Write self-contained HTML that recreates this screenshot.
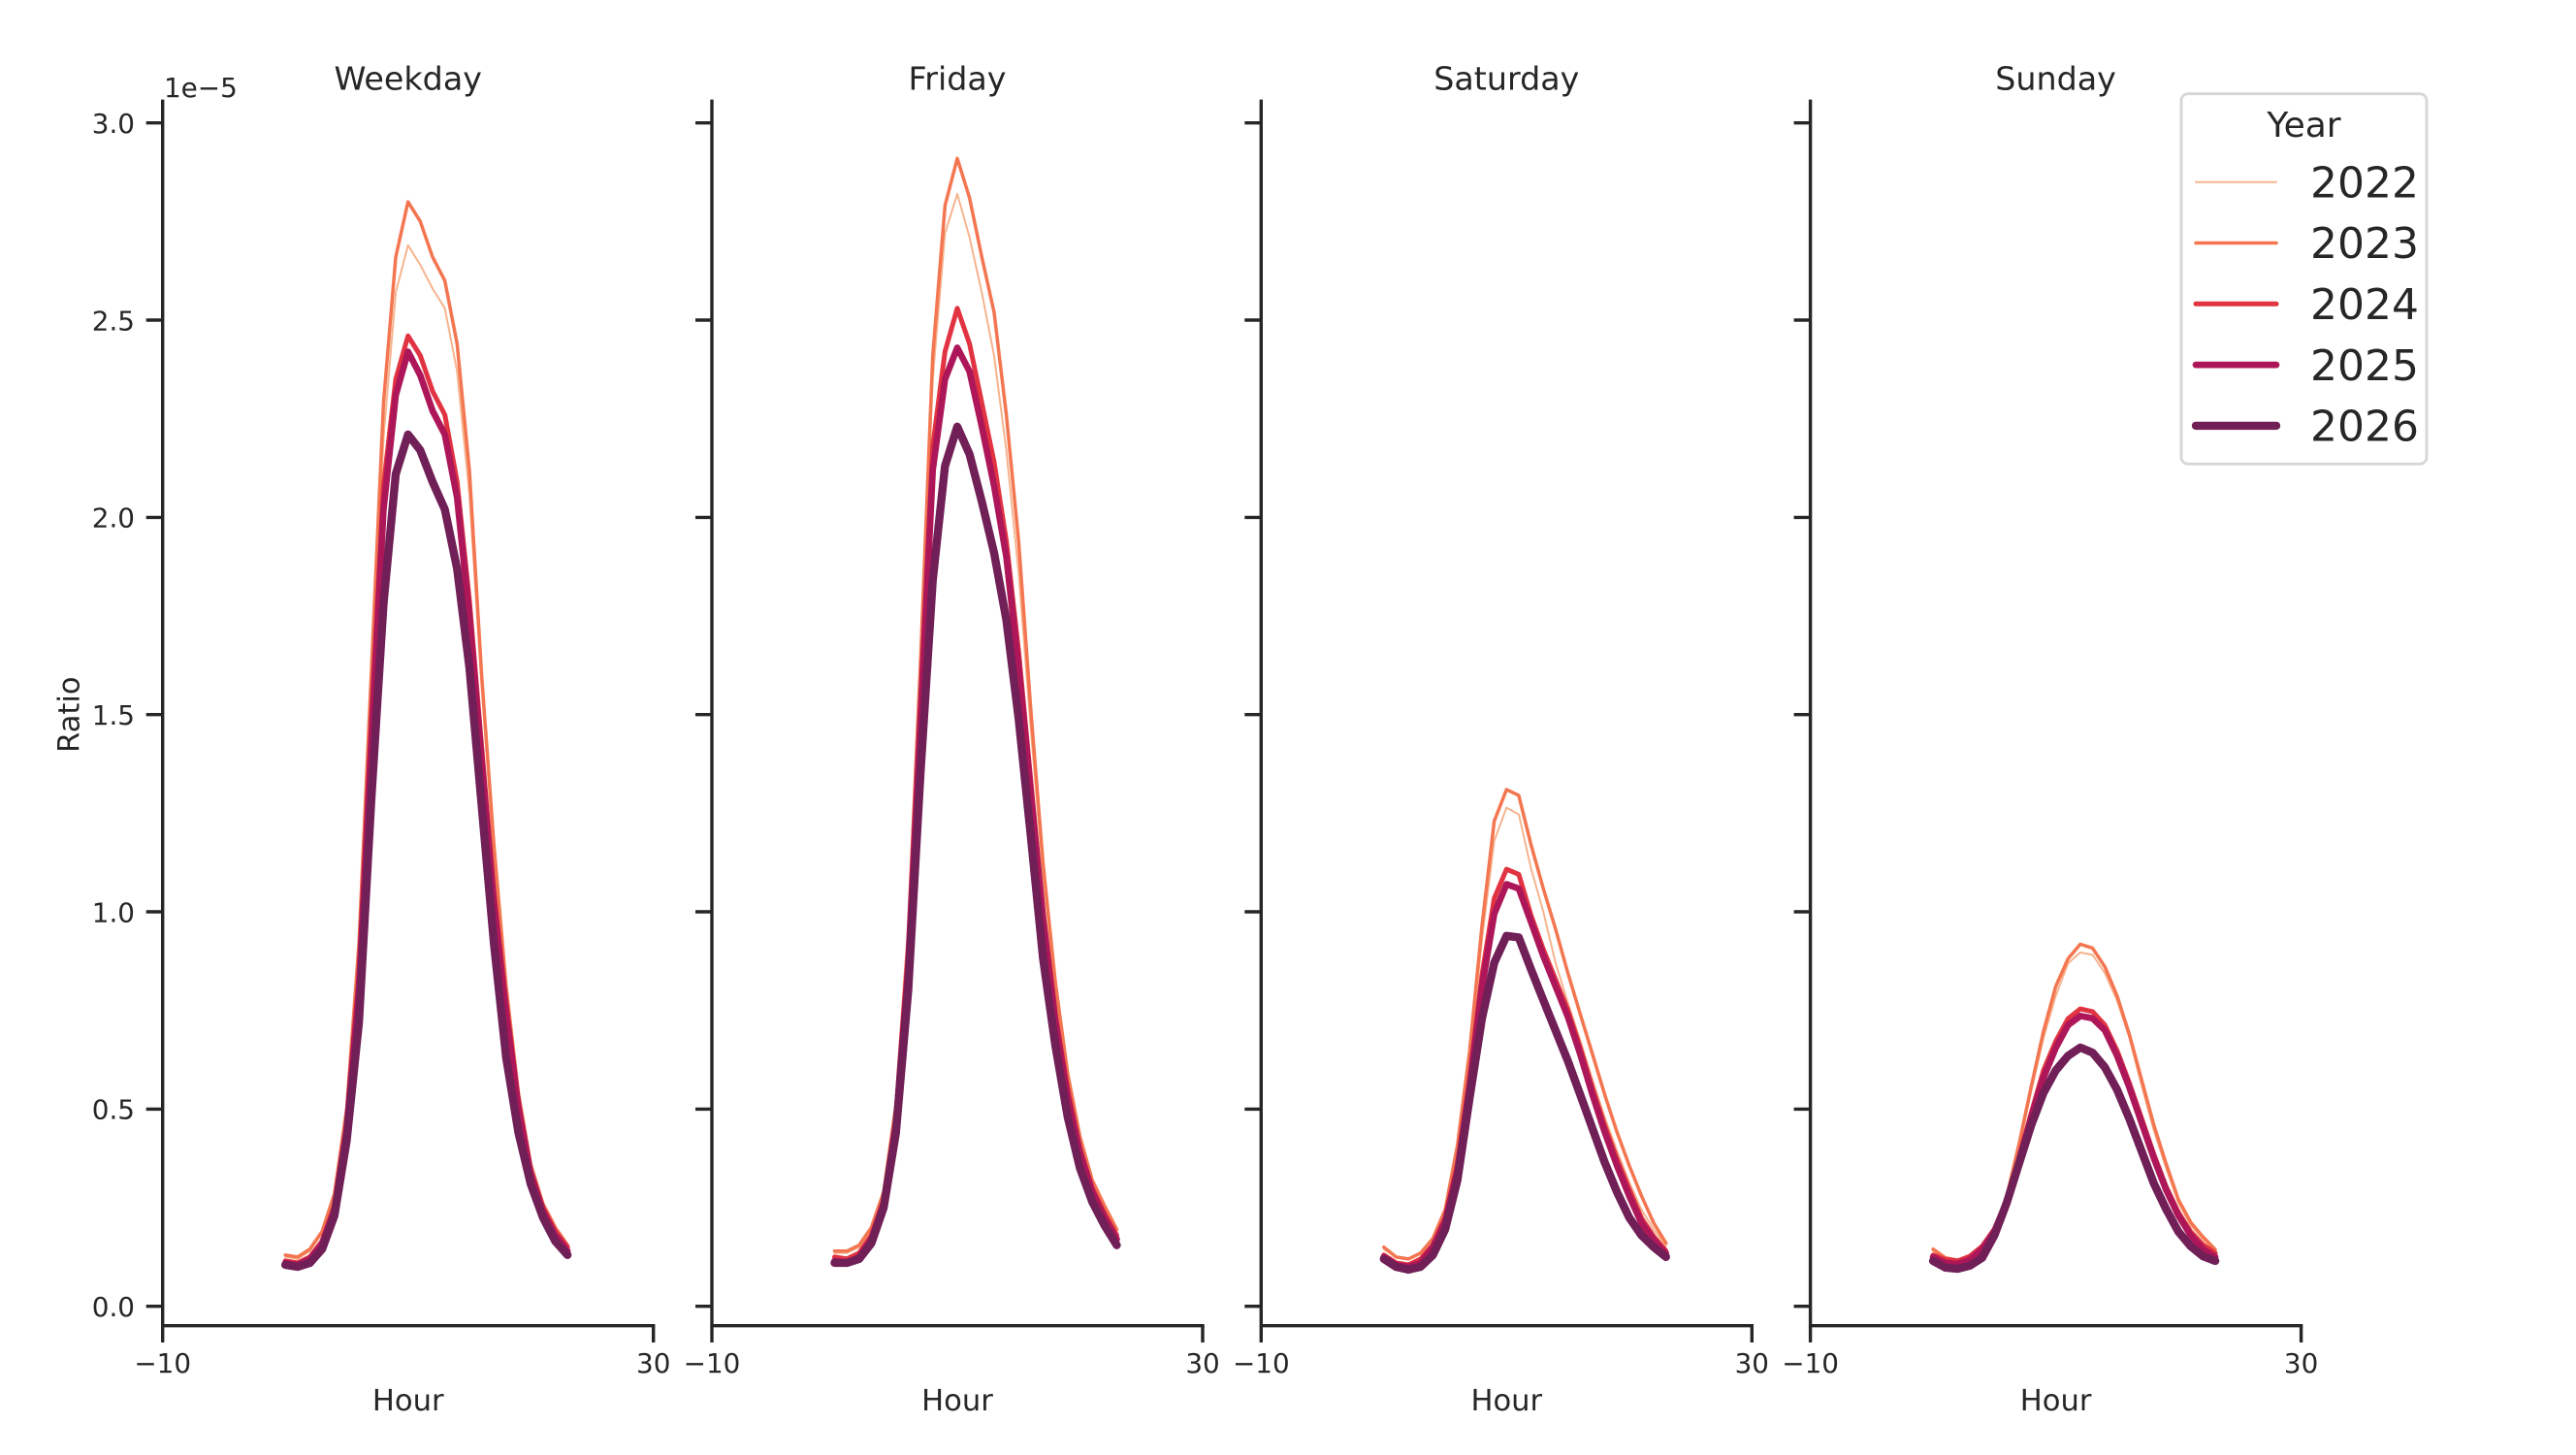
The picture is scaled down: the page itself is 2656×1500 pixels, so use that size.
<!DOCTYPE html>
<html>
<head>
<meta charset="utf-8">
<style>
  html, body { margin: 0; padding: 0; background: #ffffff; }
  svg { display: block; }
  text { font-family: "DejaVu Sans", "Liberation Sans", sans-serif; fill: #262626; }
  .tick { font-size: 27.8px; }
  .ttl { font-size: 33.3px; }
  .lbl { font-size: 30.6px; }
  .ln { fill: none; stroke-linejoin: round; stroke-linecap: round; }
  .y22 { stroke: #f6b48f; stroke-width: 2; }
  .y23 { stroke: #f37651; stroke-width: 3.5; }
  .y24 { stroke: #e13342; stroke-width: 5; }
  .y25 { stroke: #ad1759; stroke-width: 6.7; }
  .y26 { stroke: #701f57; stroke-width: 8.4; }
  .ax { stroke: #262626; stroke-width: 3.4; fill: none; stroke-linecap: square; }
  .tk { stroke: #262626; stroke-width: 3.4; }
</style>
</head>
<body>
<svg width="2656" height="1500" viewBox="0 0 2656 1500" xmlns="http://www.w3.org/2000/svg">
  <rect x="0" y="0" width="2656" height="1500" fill="#ffffff"/>

  <!-- reusable axes: ticks -->
  <defs>
    <g id="yticks">
      <line class="tk" x1="-17" y1="1346.7" x2="0" y2="1346.7"/>
      <line class="tk" x1="-17" y1="1143.4" x2="0" y2="1143.4"/>
      <line class="tk" x1="-17" y1="940.0" x2="0" y2="940.0"/>
      <line class="tk" x1="-17" y1="736.7" x2="0" y2="736.7"/>
      <line class="tk" x1="-17" y1="533.4" x2="0" y2="533.4"/>
      <line class="tk" x1="-17" y1="330.0" x2="0" y2="330.0"/>
      <line class="tk" x1="-17" y1="126.7" x2="0" y2="126.7"/>
      <path class="ax" d="M0,104.3 L0,1366.7 L506,1366.7"/>
      <line class="tk" x1="0" y1="1366.7" x2="0" y2="1384"/>
      <line class="tk" x1="506" y1="1366.7" x2="506" y2="1384"/>
      <text class="tick" x="0" y="1415" text-anchor="middle">−10</text>
      <text class="tick" x="506" y="1415" text-anchor="middle">30</text>
      <text class="lbl" x="253" y="1454" text-anchor="middle">Hour</text>
    </g>
  </defs>

  <use href="#yticks" x="167.7" y="0"/>
  <use href="#yticks" x="734.0" y="0"/>
  <use href="#yticks" x="1300.3" y="0"/>
  <use href="#yticks" x="1866.6" y="0"/>

  <!-- y tick labels (first panel) -->
  <g class="tick" text-anchor="end">
    <text class="tick" x="139" y="1357">0.0</text>
    <text class="tick" x="139" y="1153.7">0.5</text>
    <text class="tick" x="139" y="950.3">1.0</text>
    <text class="tick" x="139" y="747">1.5</text>
    <text class="tick" x="139" y="543.7">2.0</text>
    <text class="tick" x="139" y="340.3">2.5</text>
    <text class="tick" x="139" y="137">3.0</text>
  </g>
  <text class="tick" x="169" y="100">1e−5</text>
  <text class="lbl" transform="translate(81.7,736.7) rotate(-90)" text-anchor="middle">Ratio</text>

  <!-- titles -->
  <text class="ttl" x="420.7" y="92.7" text-anchor="middle">Weekday</text>
  <text class="ttl" x="987.0" y="92.7" text-anchor="middle">Friday</text>
  <text class="ttl" x="1553.3" y="92.7" text-anchor="middle">Saturday</text>
  <text class="ttl" x="2119.6" y="92.7" text-anchor="middle">Sunday</text>

  <!-- Weekday -->
  <g transform="translate(294.2,1346.7) scale(12.65,-406.67)">
    <polyline class="ln y22" vector-effect="non-scaling-stroke" points="0,0.125 1,0.12 2,0.14 3,0.185 4,0.275 5,0.48 6,0.89 7,1.56 8,2.20 9,2.57 10,2.69 11,2.64 12,2.58 13,2.53 14,2.37 15,2.06 16,1.57 17,1.15 18,0.80 19,0.53 20,0.355 21,0.255 22,0.195 23,0.15"/>
    <polyline class="ln y23" vector-effect="non-scaling-stroke" points="0,0.13 1,0.125 2,0.145 3,0.19 4,0.285 5,0.50 6,0.92 7,1.60 8,2.29 9,2.66 10,2.80 11,2.75 12,2.66 13,2.60 14,2.44 15,2.12 16,1.60 17,1.17 18,0.81 19,0.54 20,0.36 21,0.26 22,0.20 23,0.155"/>
    <polyline class="ln y24" vector-effect="non-scaling-stroke" points="0,0.115 1,0.11 2,0.125 3,0.165 4,0.255 5,0.46 6,0.84 7,1.48 8,2.08 9,2.35 10,2.46 11,2.41 12,2.32 13,2.26 14,2.09 15,1.79 16,1.42 17,1.05 18,0.77 19,0.52 20,0.345 21,0.25 22,0.19 23,0.15"/>
    <polyline class="ln y25" vector-effect="non-scaling-stroke" points="0,0.11 1,0.105 2,0.12 3,0.16 4,0.245 5,0.45 6,0.80 7,1.42 8,2.02 9,2.31 10,2.42 11,2.36 12,2.27 13,2.21 14,2.05 15,1.75 16,1.38 17,1.02 18,0.74 19,0.50 20,0.335 21,0.24 22,0.18 23,0.14"/>
    <polyline class="ln y26" vector-effect="non-scaling-stroke" points="0,0.105 1,0.10 2,0.11 3,0.145 4,0.23 5,0.42 6,0.72 7,1.28 8,1.78 9,2.11 10,2.21 11,2.17 12,2.09 13,2.02 14,1.87 15,1.62 16,1.27 17,0.92 18,0.63 19,0.44 20,0.31 21,0.225 22,0.165 23,0.13"/>
  </g>

  <!-- Friday -->
  <g transform="translate(860.5,1346.7) scale(12.65,-406.67)">
    <polyline class="ln y22" vector-effect="non-scaling-stroke" points="0,0.135 1,0.135 2,0.15 3,0.195 4,0.285 5,0.50 6,0.92 7,1.60 8,2.35 9,2.72 10,2.82 11,2.71 12,2.57 13,2.41 14,2.17 15,1.86 16,1.46 17,1.09 18,0.80 19,0.57 20,0.42 21,0.31 22,0.25 23,0.19"/>
    <polyline class="ln y23" vector-effect="non-scaling-stroke" points="0,0.14 1,0.14 2,0.155 3,0.20 4,0.29 5,0.51 6,0.94 7,1.63 8,2.41 9,2.79 10,2.91 11,2.81 12,2.66 13,2.52 14,2.26 15,1.94 16,1.51 17,1.12 18,0.82 19,0.59 20,0.43 21,0.32 22,0.255 23,0.195"/>
    <polyline class="ln y24" vector-effect="non-scaling-stroke" points="0,0.125 1,0.12 2,0.135 3,0.18 4,0.27 5,0.48 6,0.89 7,1.52 8,2.18 9,2.42 10,2.53 11,2.44 12,2.29 13,2.14 14,1.94 15,1.66 16,1.33 17,1.00 18,0.74 19,0.55 20,0.40 21,0.30 22,0.235 23,0.18"/>
    <polyline class="ln y25" vector-effect="non-scaling-stroke" points="0,0.115 1,0.11 2,0.125 3,0.17 4,0.26 5,0.46 6,0.86 7,1.48 8,2.12 9,2.35 10,2.43 11,2.37 12,2.23 13,2.08 14,1.90 15,1.62 16,1.30 17,0.98 18,0.72 19,0.53 20,0.39 21,0.29 22,0.225 23,0.17"/>
    <polyline class="ln y26" vector-effect="non-scaling-stroke" points="0,0.11 1,0.11 2,0.12 3,0.16 4,0.25 5,0.44 6,0.80 7,1.35 8,1.84 9,2.13 10,2.23 11,2.16 12,2.04 13,1.91 14,1.74 15,1.49 16,1.19 17,0.88 18,0.66 19,0.48 20,0.35 21,0.265 22,0.205 23,0.155"/>
  </g>

  <!-- Saturday -->
  <g transform="translate(1426.8,1346.7) scale(12.65,-406.67)">
    <polyline class="ln y22" vector-effect="non-scaling-stroke" points="0,0.145 1,0.125 2,0.12 3,0.135 4,0.17 5,0.24 6,0.40 7,0.63 8,0.93 9,1.18 10,1.264 11,1.247 12,1.11 13,1.00 14,0.87 15,0.77 16,0.675 17,0.575 18,0.48 19,0.395 20,0.315 21,0.245 22,0.195 23,0.152"/>
    <polyline class="ln y23" vector-effect="non-scaling-stroke" points="0,0.15 1,0.125 2,0.12 3,0.135 4,0.172 5,0.245 6,0.408 7,0.648 8,0.965 9,1.23 10,1.31 11,1.295 12,1.17 13,1.059 14,0.956 15,0.845 16,0.742 17,0.64 18,0.537 19,0.442 20,0.357 21,0.28 22,0.211 23,0.16"/>
    <polyline class="ln y24" vector-effect="non-scaling-stroke" points="0,0.13 1,0.11 2,0.105 3,0.12 4,0.155 5,0.225 6,0.36 7,0.58 8,0.84 9,1.034 10,1.108 11,1.095 12,0.991 13,0.905 14,0.828 15,0.751 16,0.656 17,0.554 18,0.459 19,0.374 20,0.297 21,0.224 22,0.177 23,0.14"/>
    <polyline class="ln y25" vector-effect="non-scaling-stroke" points="0,0.125 1,0.105 2,0.10 3,0.11 4,0.15 5,0.215 6,0.345 7,0.56 8,0.81 9,0.995 10,1.07 11,1.059 12,0.974 13,0.888 14,0.811 15,0.734 16,0.64 17,0.537 18,0.442 19,0.357 20,0.28 21,0.211 22,0.168 23,0.134"/>
    <polyline class="ln y26" vector-effect="non-scaling-stroke" points="0,0.12 1,0.10 2,0.093 3,0.10 4,0.13 5,0.195 6,0.32 7,0.53 8,0.73 9,0.871 10,0.939 11,0.935 12,0.854 13,0.776 14,0.699 15,0.622 16,0.537 17,0.451 18,0.365 19,0.29 20,0.225 21,0.18 22,0.15 23,0.125"/>
  </g>

  <!-- Sunday -->
  <g transform="translate(1993.1,1346.7) scale(12.65,-406.67)">
    <polyline class="ln y22" vector-effect="non-scaling-stroke" points="0,0.14 1,0.12 2,0.115 3,0.12 4,0.145 5,0.19 6,0.272 7,0.40 8,0.545 9,0.68 10,0.787 11,0.869 12,0.897 13,0.891 14,0.845 15,0.775 16,0.681 17,0.56 18,0.445 19,0.35 20,0.262 21,0.205 22,0.17 23,0.14"/>
    <polyline class="ln y23" vector-effect="non-scaling-stroke" points="0,0.145 1,0.123 2,0.117 3,0.123 4,0.148 5,0.193 6,0.279 7,0.41 8,0.557 9,0.697 10,0.811 11,0.881 12,0.918 13,0.908 14,0.861 15,0.787 16,0.689 17,0.574 18,0.459 19,0.361 20,0.27 21,0.213 22,0.176 23,0.144"/>
    <polyline class="ln y24" vector-effect="non-scaling-stroke" points="0,0.13 1,0.119 2,0.115 3,0.127 4,0.152 5,0.196 6,0.27 7,0.377 8,0.49 9,0.598 10,0.672 11,0.729 12,0.754 13,0.747 14,0.713 15,0.648 16,0.566 17,0.476 18,0.385 19,0.303 20,0.238 21,0.189 22,0.156 23,0.135"/>
    <polyline class="ln y25" vector-effect="non-scaling-stroke" points="0,0.125 1,0.11 2,0.107 3,0.118 4,0.145 5,0.19 6,0.262 7,0.368 8,0.48 9,0.58 10,0.655 11,0.713 12,0.736 13,0.73 14,0.70 15,0.635 16,0.555 17,0.465 18,0.375 19,0.295 20,0.23 21,0.18 22,0.145 23,0.125"/>
    <polyline class="ln y26" vector-effect="non-scaling-stroke" points="0,0.115 1,0.098 2,0.095 3,0.103 4,0.123 5,0.18 6,0.262 7,0.361 8,0.459 9,0.541 10,0.598 11,0.635 12,0.656 13,0.643 14,0.606 15,0.549 16,0.475 17,0.393 18,0.311 19,0.246 20,0.189 21,0.152 22,0.127 23,0.115"/>
  </g>

  <!-- Legend -->
  <rect x="2249" y="96.7" width="253" height="381.6" rx="7" ry="7" fill="#ffffff" fill-opacity="0.85" stroke="#d6d6d6" stroke-width="2.8"/>
  <text x="2375.5" y="141" text-anchor="middle" style="font-size:36px">Year</text>
  <line class="ln y22" x1="2264" y1="187.7" x2="2347" y2="187.7"/>
  <line class="ln y23" x1="2264" y1="250.5" x2="2347" y2="250.5"/>
  <line class="ln y24" x1="2264" y1="313.3" x2="2347" y2="313.3"/>
  <line class="ln y25" x1="2264" y1="376.1" x2="2347" y2="376.1"/>
  <line class="ln y26" x1="2264" y1="438.9" x2="2347" y2="438.9"/>
  <text x="2382" y="203.4" style="font-size:44px">2022</text>
  <text x="2382" y="266.2" style="font-size:44px">2023</text>
  <text x="2382" y="329.0" style="font-size:44px">2024</text>
  <text x="2382" y="391.8" style="font-size:44px">2025</text>
  <text x="2382" y="454.6" style="font-size:44px">2026</text>
</svg>
</body>
</html>
